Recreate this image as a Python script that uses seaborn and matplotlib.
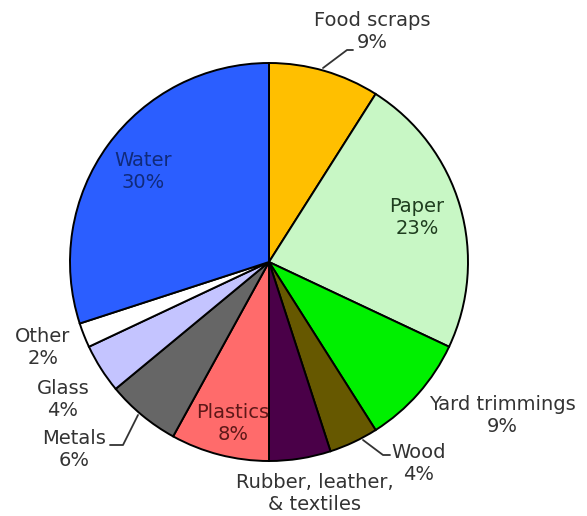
import matplotlib
matplotlib.use("Agg")
import matplotlib.pyplot as plt
import seaborn as sns

categories = ["Food scraps", "Paper", "Yard trimmings", "Wood", "Rubber, leather,\n& textiles",
              "Plastics", "Metals", "Glass", "Other", "Water"]
values = [9, 23, 9, 4, 5, 8, 6, 4, 2, 30]
label_texts = ["Food scraps\n9%", "Paper\n23%", "Yard trimmings\n9%", "Wood\n4%",
               "Rubber, leather,\n& textiles", "Plastics\n8%", "Metals\n6%", "Glass\n4%",
               "Other\n2%", "Water\n30%"]
colors = ["#FFBF00", "#C8F7C5", "#00F000", "#665800", "#4A0048",
          "#FF6B6B", "#666666", "#C4C4FF", "#FFFFFF", "#2B5EFF"]

sns.set_theme(style="white")
plt.rcParams["font.family"] = ["DejaVu Sans"]

W, H = 587, 516
fig = plt.figure(figsize=(W / 100, H / 100), dpi=100)
ax = fig.add_axes([0, 0, 1, 1])

def Y(y):
    return H - y

cx, cy, r = 269, 262, 199
ax.pie(values, colors=sns.color_palette(colors), startangle=90, counterclock=False,
       center=(cx, Y(cy)), radius=r, frame=True,
       wedgeprops=dict(edgecolor="black", linewidth=1.4))
ax.set_xlim(0, W)
ax.set_ylim(0, H)
ax.set_aspect("equal")
ax.axis("off")

# label positions (pixel coords, y down) and colours
pos = {
    "Food scraps\n9%": (372, 32, "#333333"),
    "Paper\n23%": (417, 217, "#1F3D1F"),
    "Yard trimmings\n9%": (502, 416, "#333333"),
    "Wood\n4%": (419, 463, "#333333"),
    "Rubber, leather,\n& textiles": (315, 493, "#333333"),
    "Plastics\n8%": (233, 424, "#5E1818"),
    "Metals\n6%": (74, 450, "#333333"),
    "Glass\n4%": (63, 399, "#333333"),
    "Other\n2%": (43, 347, "#333333"),
    "Water\n30%": (143, 171, "#102A7A"),
}
for t in label_texts:
    x, y, c = pos[t]
    ax.text(x, Y(y), t, ha="center", va="center", fontsize=14, color=c,
            linespacing=1.2)

# leader lines
leaders = [
    [(323, 68), (347, 50), (353, 50)],
    [(363, 440), (383, 455), (390, 455)],
    [(138, 415), (123, 445), (110, 445)],
]
for pts in leaders:
    ax.plot([p[0] for p in pts], [Y(p[1]) for p in pts], color="#333333", linewidth=1.3)

fig.savefig("out.png", dpi=100)
